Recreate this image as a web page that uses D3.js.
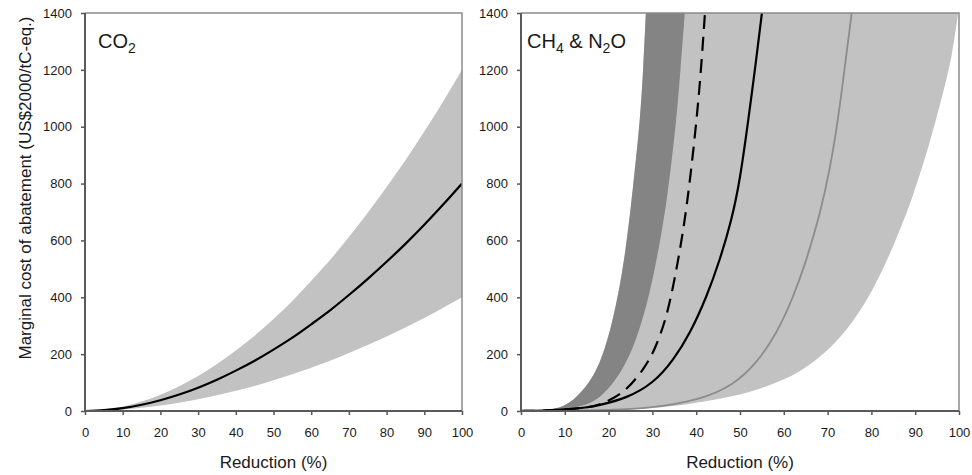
<!DOCTYPE html>
<html>
<head>
<meta charset="utf-8">
<script src="https://cdn.jsdelivr.net/npm/d3@7"></script>
<style>
body { margin: 0; background: #fff; }
text { font-family: Arial, "Liberation Sans", sans-serif; fill: #1a1a1a; }
</style>
</head>
<body>
<svg id="viz" width="972" height="475"></svg>
<script>
var reductionTicks = [0, 10, 20, 30, 40, 50, 60, 70, 80, 90, 100];
var costTicks = [0, 200, 400, 600, 800, 1000, 1200, 1400];

// CO2 panel, read every 5 % of reduction
var co2Reduction = [0, 5, 10, 15, 20, 25, 30, 35, 40, 45, 50, 55, 60, 65, 70, 75, 80, 85, 90, 95, 100];
var co2Central = [0, 3, 10, 22, 38, 58, 82, 110, 142, 177, 216, 258, 305, 354, 408, 465, 525, 588, 655, 726, 800];
var co2Upper = [0, 4, 15, 33, 57, 87, 123, 165, 213, 265, 324, 387, 458, 531, 612, 697, 788, 882, 983, 1089, 1200];
var co2Lower = [0, 1, 5, 11, 19, 29, 41, 55, 71, 88, 108, 129, 152, 177, 204, 232, 262, 294, 327, 363, 400];

// CH4 & N2O panel, each curve as reduction (%) / cost pairs, cost ascending
var darkLeftRed = [0, 5, 10, 14, 18, 21.1, 23.7, 25.6, 27.2, 27.9, 28.5];
var darkLeftCost = [0, 1, 12, 66, 156, 320, 531, 789, 1024, 1199, 1400];
var darkRightRed = [0, 5, 10, 15, 18, 21.8, 25.6, 28.7, 31, 33.3, 35.5, 36.4, 37.4];
var darkRightCost = [0, 1, 5, 20, 45, 109, 215, 367, 531, 731, 1024, 1199, 1400];
var lightRightRed = [0, 10, 20, 30, 37.1, 48.5, 56.1, 63.7, 71.3, 77.4, 82.7, 86.5, 89.3, 93.4, 96.4, 98.3, 99.8];
var lightRightCost = [0, 1, 3, 9, 21, 50, 85, 133, 226, 344, 496, 637, 746, 945, 1121, 1238, 1400];
var dashedRed = [0, 5, 10, 15, 18, 21.1, 24.1, 27.9, 30.6, 33.3, 35.2, 37.1, 38.6, 40.1, 41.1, 42];
var dashedCost = [0, 1, 5, 12, 21, 45, 74, 144, 215, 332, 472, 637, 812, 1024, 1199, 1400];
var blackRed = [0, 5, 10, 15, 18, 24.1, 30.2, 34.8, 38.6, 42.4, 45.4, 48.1, 50, 51.9, 53.4, 55];
var blackCost = [0, 1, 5, 12, 21, 45, 97, 179, 273, 402, 531, 672, 812, 1024, 1199, 1400];
var greyRed = [0, 10, 20, 29.5, 40.9, 48.5, 53.8, 58.4, 62.2, 65.2, 68.3, 70.5, 72.4, 74, 75.5];
var greyCost = [0, 1, 3, 9.5, 39, 91, 168, 273, 402, 531, 695, 848, 1024, 1220, 1400];

var svg = d3.select("#viz");
var plotTop = 13, plotBottom = 411;

function pairs(rs, cs) {
	return rs.map(function(r, i) { return { r: r, c: cs[i] }; });
}

function drawPanel(left, right, id) {
	var x = d3.scaleLinear().domain([0, 100]).range([left, right]);
	var y = d3.scaleLinear().domain([0, 1400]).range([plotBottom, plotTop]);

	var g = svg.append("g").attr("class", "panel-" + id);

	g.append("clipPath").attr("id", "clip-" + id)
		.append("rect")
		.attr("x", left).attr("y", plotTop)
		.attr("width", right - left).attr("height", plotBottom - plotTop);

	var plot = g.append("g").attr("clip-path", "url(#clip-" + id + ")");

	// axes
	var yAxis = d3.axisLeft(y).tickValues(costTicks).tickFormat(d3.format("d"))
		.tickSize(4).tickSizeOuter(0).tickPadding(9);
	var xAxis = d3.axisBottom(x).tickValues(reductionTicks).tickFormat(d3.format("d"))
		.tickSize(4).tickSizeOuter(0).tickPadding(13);

	var ya = g.append("g").attr("transform", "translate(" + left + ",0)").call(yAxis);
	var xa = g.append("g").attr("transform", "translate(0," + plotBottom + ")").call(xAxis);
	[ya, xa].forEach(function(a) {
		a.attr("font-size", 13);
		a.select(".domain").remove();
		a.selectAll(".tick line").attr("stroke", "#555").attr("stroke-width", 1.5);
		a.selectAll("text").attr("fill", "#1a1a1a");
	});

	// frame
	g.append("path")
		.attr("d", "M" + left + "," + plotTop + "H" + right + "V" + plotBottom)
		.attr("fill", "none").attr("stroke", "#8a8a8a").attr("stroke-width", 1.5);
	g.append("path")
		.attr("d", "M" + left + "," + plotTop + "V" + plotBottom + "H" + right)
		.attr("fill", "none").attr("stroke", "#5a5a5a").attr("stroke-width", 2);

	g.append("text")
		.attr("x", (left + right) / 2).attr("y", 468)
		.attr("text-anchor", "middle").attr("font-size", 17)
		.text("Reduction (%)");

	return { x: x, y: y, plot: plot, g: g };
}

// ---- left panel: CO2
var p1 = drawPanel(85, 462, "co2");
var co2 = co2Reduction.map(function(r, i) {
	return { r: r, c: co2Central[i], lo: co2Lower[i], hi: co2Upper[i] };
});

p1.plot.append("path")
	.datum(co2)
	.attr("fill", "#c2c2c2")
	.attr("d", d3.area()
		.x(function(d) { return p1.x(d.r); })
		.y0(function(d) { return p1.y(d.lo); })
		.y1(function(d) { return p1.y(d.hi); })
		.curve(d3.curveMonotoneX));

p1.plot.append("path")
	.datum(co2)
	.attr("fill", "none").attr("stroke", "#000").attr("stroke-width", 2.2)
	.attr("d", d3.line()
		.x(function(d) { return p1.x(d.r); })
		.y(function(d) { return p1.y(d.c); })
		.curve(d3.curveMonotoneX));

var t1 = p1.g.append("text").attr("x", 98).attr("y", 48).attr("font-size", 20);
t1.append("tspan").text("CO");
t1.append("tspan").attr("font-size", 14).attr("dy", 5).text("2");

// ---- right panel: CH4 & N2O
var p2 = drawPanel(521, 959, "ghg");

var line2 = d3.line()
	.x(function(d) { return p2.x(d.r); })
	.y(function(d) { return p2.y(d.c); })
	.curve(d3.curveBasis);

function band(leftPts, rightPts) {
	var a = line2(leftPts);
	var b = line2(rightPts.slice().reverse());
	return a + "L" + b.slice(1) + "Z";
}

var darkLeft = pairs(darkLeftRed, darkLeftCost);
var darkRight = pairs(darkRightRed, darkRightCost);
var lightRight = pairs(lightRightRed, lightRightCost);

p2.plot.append("path")
	.attr("fill", "#c2c2c2")
	.attr("d", band(darkLeft, lightRight));
p2.plot.append("path")
	.attr("fill", "#848484")
	.attr("d", band(darkLeft, darkRight));

p2.plot.append("path")
	.datum(pairs(greyRed, greyCost))
	.attr("fill", "none").attr("stroke", "#8c8c8c").attr("stroke-width", 1.8)
	.attr("d", line2);
p2.plot.append("path")
	.datum(pairs(blackRed, blackCost))
	.attr("fill", "none").attr("stroke", "#000").attr("stroke-width", 2.2)
	.attr("d", line2);
p2.plot.append("path")
	.datum(pairs(dashedRed, dashedCost))
	.attr("fill", "none").attr("stroke", "#000").attr("stroke-width", 2.2)
	.attr("stroke-dasharray", "14,8")
	.attr("d", line2);

// keep frame above the fills
[p1, p2].forEach(function(p) {
	p.g.selectAll("path").filter(function() { return this.parentNode === p.g.node(); }).raise();
});

var t2 = p2.g.append("text").attr("x", 527).attr("y", 48).attr("font-size", 20);
t2.append("tspan").text("CH");
t2.append("tspan").attr("font-size", 14).attr("dy", 5).text("4");
t2.append("tspan").attr("dy", -5).text(" & N");
t2.append("tspan").attr("font-size", 14).attr("dy", 5).text("2");
t2.append("tspan").attr("dy", -5).text("O");

// y title
svg.append("text")
	.attr("transform", "translate(31,188) rotate(-90)")
	.attr("text-anchor", "middle").attr("font-size", 17)
	.text("Marginal cost of abatement (US$2000/tC-eq.)");
</script>
</body>
</html>
